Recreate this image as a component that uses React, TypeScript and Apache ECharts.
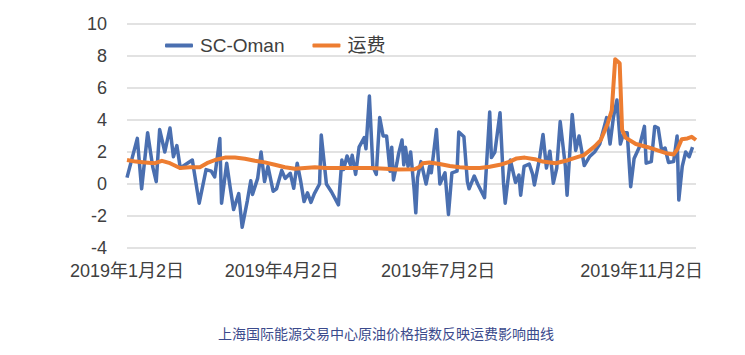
import React, { useEffect, useRef } from "react";
import * as echarts from "echarts";

// Day offsets from 2019-01-02 for the SC-Oman series
const scDays = [
  0, 6, 8.5, 12, 15, 17, 19, 22, 25, 27, 29, 31, 38, 42, 46, 49, 51, 54, 55, 58,
  60, 62, 65, 67, 70, 72, 73, 76, 78, 80, 82, 85, 87, 90, 92, 95, 97, 99, 101, 103,
  105, 107, 109, 112, 113, 116, 119, 123, 125, 126, 128, 130, 131, 133, 135, 138, 139, 141, 143, 145,
  147, 149, 151, 153, 154, 155, 157, 158, 160, 161, 162, 163.5, 165, 167, 168, 169, 171, 174, 176, 177,
  180, 182, 185, 187, 189, 192, 193, 196, 198, 199, 202, 204, 208, 211, 212, 214, 217, 219, 220, 223,
  226, 228, 229, 231, 234, 236, 237, 240, 242, 244, 246, 248, 250, 252, 255, 256, 259, 261, 263, 266,
  269, 272, 275, 279, 281, 283, 285, 287, 289, 291, 293, 295, 298, 301, 302, 305, 307, 309, 311, 313,
  315, 318, 320, 321, 323, 325, 327, 329,
];
const scValues = [
  0.4, 2.85, -0.3, 3.2, 1.05, 0.15, 3.4, 2.0, 3.5, 1.7, 2.4, 1.0, 1.5, -1.2, 0.9, 0.8, 0.44, 2.85, -1.2, 1.3,
  -0.2, -1.6, -0.6, -2.7, -1.05, 0.2, -0.65, 0.35, 2.0, 0.15, 1.1, -0.45, -0.3, 0.85, 0.35, 0.67, -0.27, 1.3, 0.2, -1.1,
  -0.55, -1.15, -0.6, 0.0, 3.06, 0.0, -0.5, -1.3, 1.5, 0.9, 1.75, 1.2, 1.8, 0.6, 2.3, 2.9, 2.2, 5.5, 1.1, 0.6,
  4.15, 3.0, 3.0, 0.8, 2.3, 0.25, 1.3, 1.9, 2.75, 1.2, 2.3, 1.1, 2.0, -0.3, -1.8, 0.4, 1.4, 0.0, 1.1, 0.7,
  3.4, 0.0, 0.7, -1.9, 0.7, 0.8, 3.25, 2.95, 0.15, -0.3, 0.5, 0.0, -0.85, 4.5, 1.65, 2.0, 4.45, 0.1, -1.2, 1.5,
  0.1, 0.56, -0.7, 1.1, 1.25, 0.6, -0.06, 1.6, 3.1, 1.0, 2.05, 0.05, 1.0, 3.9, 1.1, -0.7, 4.35, 2.1, 3.0, 1.15,
  1.7, 2.0, 2.5, 4.15, 2.5, 4.2, 5.25, 2.5, 3.2, 3.2, -0.17, 1.6, 2.3, 3.6, 1.3, 1.4, 3.6, 3.5, 2.1, 2.25,
  1.35, 1.4, 3.0, -1.0, 1.1, 2.0, 1.7, 2.3,
];

// Day offsets from 2019-01-02 for the freight (运费) series
const freightDays = [
  0, 5, 10.5, 16.3, 20.3, 25, 30.8, 36.6, 42.4, 46.5, 51.2, 57, 62.8, 68.6, 74.4, 80.2, 86, 91.9, 97.7, 103.5,
  109.3, 115.7, 123.8, 132.6, 141.3, 150.6, 156.4, 167.2, 170, 172, 176, 181.9, 187.8, 193.6, 199.4, 205.2, 211, 216.9, 222.7, 226.7,
  231.4, 237.2, 241.9, 249.4, 255.2, 261, 265.7, 269.2, 272.1, 275.6, 279.7, 282, 284, 286.6, 288, 290, 296, 303, 310, 314.5,
  318, 320.3, 322.7, 326, 328.5, 331,
];
const freightValues = [
  1.5, 1.4, 1.35, 1.3, 1.45, 1.3, 1.0, 1.05, 1.05, 1.3, 1.5, 1.65, 1.65, 1.58, 1.45, 1.35, 1.2, 1.05, 0.95, 1.0,
  1.05, 1.0, 1.0, 1.0, 1.0, 0.95, 0.9, 0.92, 1.05, 1.3, 1.35, 1.25, 1.12, 1.05, 1.0, 1.0, 1.08, 1.2, 1.4, 1.6,
  1.65, 1.55, 1.4, 1.3, 1.45, 1.65, 1.8, 2.1, 2.35, 2.75, 3.8, 4.6, 7.8, 7.55, 3.4, 2.9, 2.5, 2.3, 2.05, 1.9,
  1.85, 2.2, 2.8, 2.85, 2.95, 2.75,
];

// X-axis tick labels (day offset -> label)
const xTickDays = [0, 90, 181, 304];
const xTickLabels = ["2019年1月2日", "2019年4月2日", "2019年7月2日", "2019年11月2日"];

const seriesNames = ["SC-Oman", "运费"];
const caption = "上海国际能源交易中心原油价格指数反映运费影响曲线";

export default function App() {
  const ref = useRef<HTMLDivElement>(null);
  useEffect(() => {
    if (!ref.current) return;
    const chart = echarts.init(ref.current, undefined, { renderer: "svg" });
    const font = 'Arial, "Liberation Sans", "Noto Sans CJK SC", sans-serif';
    const blue = "#4a6fb0";
    const orange = "#ED7D31";
    chart.setOption({
      animation: false,
      backgroundColor: "#ffffff",
      textStyle: { fontFamily: font },
      grid: { left: 127, right: 49, top: 24, bottom: 107, containLabel: false },
      legend: {
        left: 160,
        top: 31,
        itemWidth: 28,
        itemHeight: 4,
        itemGap: 28,
        icon: "roundRect",
        textStyle: { fontSize: 19, color: "#404040", fontFamily: font, padding: [0, 0, 0, 2] },
        data: seriesNames,
      },
      xAxis: {
        type: "value",
        min: 0,
        max: 331,
        axisLine: { show: false },
        axisTick: { show: false },
        splitLine: { show: false },
        axisLabel: {
          customValues: xTickDays,
          margin: 14,
          fontSize: 18,
          color: "#404040",
          fontFamily: font,
          formatter: (v: number) => {
            const i = xTickDays.indexOf(Math.round(v));
            if (i < 0) return "";
            if (i === xTickDays.length - 1) return "{last|" + xTickLabels[i] + "}";
            return xTickLabels[i];
          },
          rich: {
            last: { fontSize: 18, color: "#404040", fontFamily: font, padding: [0, 16, 0, 0] },
          },
        },
      },
      yAxis: {
        type: "value",
        min: -4,
        max: 10,
        interval: 2,
        axisLine: { show: false },
        axisTick: { show: false },
        axisLabel: { fontSize: 18, color: "#404040", margin: 20, fontFamily: font },
        splitLine: { lineStyle: { color: "#d9d9d9", width: 1.5 } },
      },
      series: [
        {
          name: seriesNames[0],
          type: "line",
          data: scDays.map((d, i) => [d, scValues[i]]),
          showSymbol: false,
          lineStyle: { color: blue, width: 3.5, join: "round" },
          itemStyle: { color: blue },
        },
        {
          name: seriesNames[1],
          type: "line",
          data: freightDays.map((d, i) => [d, freightValues[i]]),
          showSymbol: false,
          lineStyle: { color: orange, width: 4, join: "round" },
          itemStyle: { color: orange },
        },
      ],
      graphic: [
        {
          type: "text",
          left: 218,
          top: 326,
          style: {
            text: caption,
            fontSize: 14,
            fill: "#3b4a8c",
            fontFamily: '"Noto Sans CJK SC", sans-serif',
          },
        },
      ],
    });
    return () => chart.dispose();
  }, []);
  return (
    <div
      ref={ref}
      style={{ position: "fixed", left: 0, top: 0, width: 745, height: 355 }}
    />
  );
}
